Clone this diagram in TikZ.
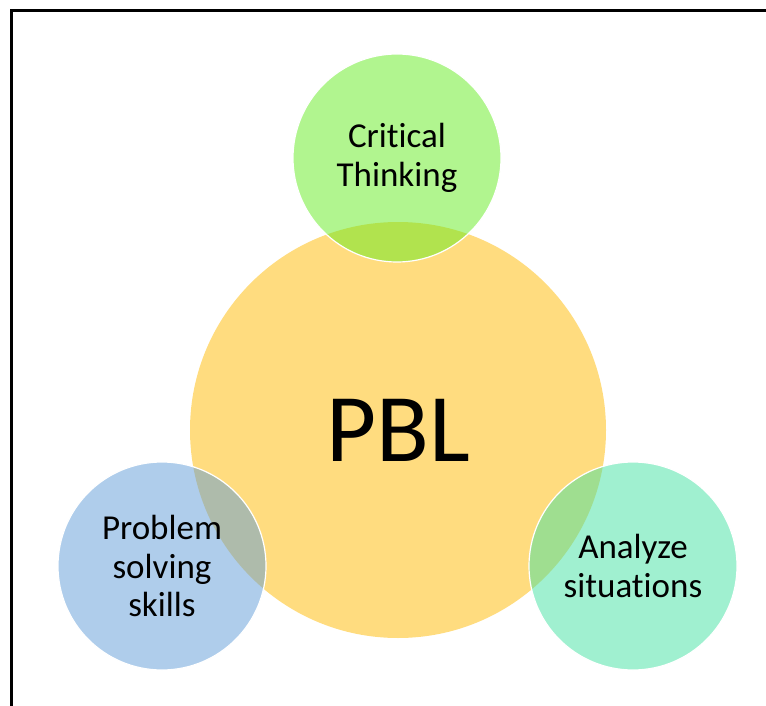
\documentclass[tikz,border=0pt]{standalone}
\usepackage{fontspec}
\setmainfont{Carlito}[Ligatures=NoCommon]
\definecolor{pblgold}{RGB}{255,185,0}
\definecolor{critgreen}{RGB}{99,235,31}
\definecolor{probblue}{RGB}{95,155,215}
\definecolor{analteal}{RGB}{65,225,161}
\tikzset{
  bubble/.style={circle, inner sep=0pt, align=center,
    fill opacity=0.5, text opacity=1},
  small bubble/.style={bubble, draw=white, draw opacity=1, line width=1.2pt,
    minimum size=208pt, font=\fontsize{35}{38.5}\selectfont},
}

\begin{document}
\begin{tikzpicture}[x=1pt,y=-1pt]
  \useasboundingbox (0,0) rectangle (766,706);
  \draw[line width=3pt] (766,11) -- (11,11) -- (11,706);% open frame, top and left

  % centre circle first, the three around it are laid over it
  \node[bubble, fill=pblgold, minimum size=416pt,
    font=\fontsize{97}{100}\selectfont] (pbl) at (398,430) {PBL};

  \node[small bubble, fill=critgreen] (crit) at (397,158) {Critical\\Thinking};
  \node[small bubble, fill=probblue] (prob) at (162,566) {Problem\\solving\\skills};
  \node[small bubble, fill=analteal] (anal) at (633,566) {Analyze\\situations};
\end{tikzpicture}
\end{document}
